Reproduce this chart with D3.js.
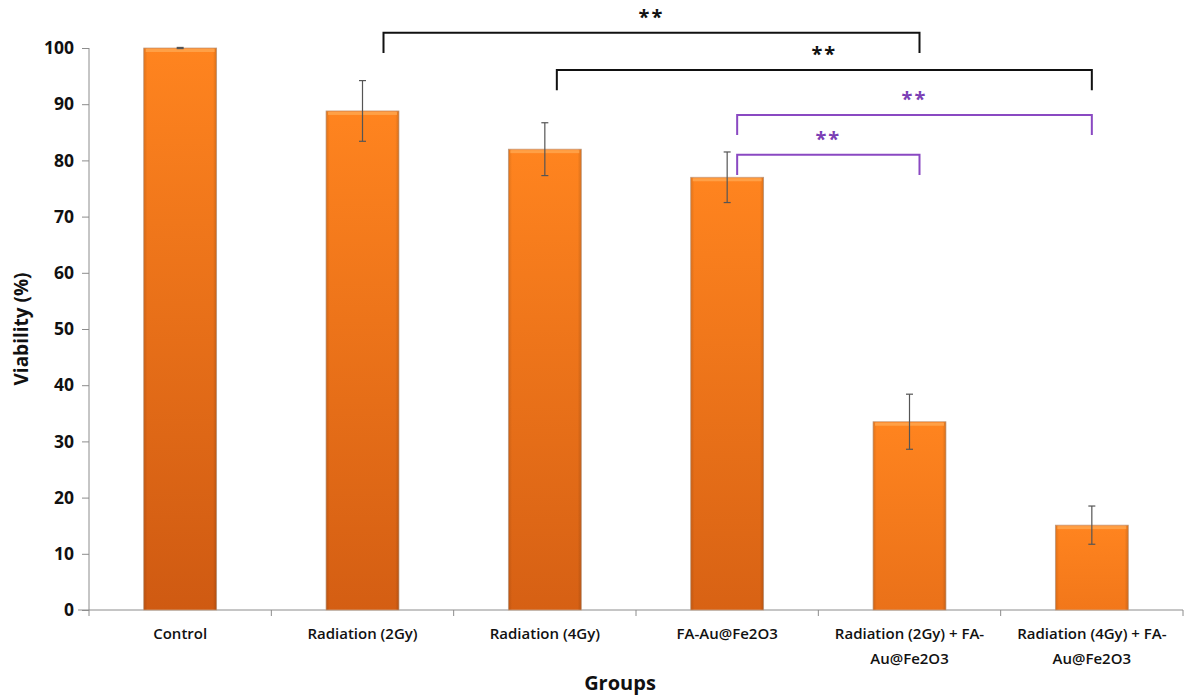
<!DOCTYPE html>
<html>
<head>
<meta charset="utf-8">
<title>viability bar chart</title>
<style>
  body { margin: 0; background: #fff; }
  text { font-family: "Open Sans", "Liberation Sans", sans-serif; }
</style>
</head>
<body>
<svg width="1184" height="698"></svg>
<script src="https://d3js.org/d3.v7.min.js"></script>
<script>

    // data
    var groups = ["Control", "Radiation (2Gy)", "Radiation (4Gy)", "FA-Au@Fe2O3",
                  "Radiation (2Gy) + FA-Au@Fe2O3", "Radiation (4Gy) + FA-Au@Fe2O3"];
    var groupLines = [["Control"], ["Radiation (2Gy)"], ["Radiation (4Gy)"], ["FA-Au@Fe2O3"],
                      ["Radiation (2Gy) + FA-", "Au@Fe2O3"], ["Radiation (4Gy) + FA-", "Au@Fe2O3"]];
    var viability = [100, 88.8, 82.0, 77.0, 33.5, 15.1];
    var errors = [0.1, 5.4, 4.7, 4.5, 4.9, 3.4];
    var yTicks = [0, 10, 20, 30, 40, 50, 60, 70, 80, 90, 100];

    // significance brackets: from group, to group, bracket level, leg ends, colour set
    var sigFrom = [1, 2, 3, 3];
    var sigTo = [4, 5, 5, 4];
    var sigLevel = [102.7, 96.1, 88.1, 81.0];
    var sigLegLeft = [99.1, 92.5, 84.5, 77.4];
    var sigLegRight = [99.1, 92.5, 84.5, 77.4];
    var sigLabel = ["**", "**", "**", "**"];
    var sigKind = ["black", "black", "purple", "purple"];

    var svg = d3.select("svg"),
        margin = { top: 48, right: 1, bottom: 88, left: 89 },
        width = +svg.attr("width") - margin.left - margin.right,
        height = +svg.attr("height") - margin.top - margin.bottom,
        g = svg.append("g").attr("transform", "translate(" + margin.left + "," + margin.top + ")");

    var x = d3.scaleBand()
        .domain(groups)
        .range([0, width])
        .paddingInner(0.6)
        .paddingOuter(0.3);

    var y = d3.scaleLinear()
        .domain([0, 100])
        .range([height, 0]);

    var defs = svg.append("defs");

    // one gradient per bar, darker the further it runs down
    viability.forEach(function (v, i) {
        var top = y(v), t = (height - top) / height;
        var grad = defs.append("linearGradient")
            .attr("id", "bar" + i)
            .attr("gradientUnits", "userSpaceOnUse")
            .attr("x1", 0).attr("x2", 0)
            .attr("y1", top).attr("y2", height);
        grad.append("stop").attr("offset", 0).attr("stop-color", "#ff841f");
        grad.append("stop").attr("offset", 1).attr("stop-color", d3.interpolateRgb("#f87c1c", "#cf5a12")(t));
        var side = defs.append("linearGradient")
            .attr("id", "side" + i)
            .attr("x1", 0).attr("x2", 1).attr("y1", 0).attr("y2", 0);
        side.append("stop").attr("offset", 0).attr("stop-color", "#000").attr("stop-opacity", 0.12);
        side.append("stop").attr("offset", 0.05).attr("stop-color", "#000").attr("stop-opacity", 0);
        side.append("stop").attr("offset", 0.95).attr("stop-color", "#000").attr("stop-opacity", 0);
        side.append("stop").attr("offset", 1).attr("stop-color", "#000").attr("stop-opacity", 0.15);
    });

    // axes
    var yAxis = g.append("g")
        .call(d3.axisLeft(y).tickValues(yTicks).tickSize(7).tickPadding(8));
    yAxis.select(".domain").attr("stroke", "#8c8c8c").attr("d", "M0," + height + "V0");
    yAxis.selectAll(".tick line").attr("stroke", "#8c8c8c");
    yAxis.selectAll(".tick text")
        .attr("fill", "#111")
        .style("font-size", "17.5px")
        .style("font-weight", "bold");

    var xAxis = g.append("g")
        .attr("transform", "translate(0," + height + ")");
    xAxis.append("line")
        .attr("x1", -11).attr("x2", width)
        .attr("stroke", "#8c8c8c");
    xAxis.selectAll(".xtick")
        .data(d3.range(groups.length + 1))
        .enter().append("line")
        .attr("x1", function (i) { return i * x.step(); })
        .attr("x2", function (i) { return i * x.step(); })
        .attr("y1", 0).attr("y2", 6)
        .attr("stroke", "#8c8c8c");

    // bars
    var bars = g.selectAll(".bar")
        .data(viability)
        .enter().append("g")
        .attr("class", "bar");

    bars.append("rect")
        .attr("x", function (d, i) { return x(groups[i]); })
        .attr("y", function (d) { return y(d); })
        .attr("width", x.bandwidth())
        .attr("height", function (d) { return height - y(d); })
        .attr("fill", function (d, i) { return "url(#bar" + i + ")"; })
        .attr("stroke", "#c9a58a")
        .attr("stroke-width", 0.8);

    bars.append("rect")
        .attr("x", function (d, i) { return x(groups[i]); })
        .attr("y", function (d) { return y(d); })
        .attr("width", x.bandwidth())
        .attr("height", function (d) { return height - y(d); })
        .attr("fill", function (d, i) { return "url(#side" + i + ")"; });

    bars.append("rect")
        .attr("x", function (d, i) { return x(groups[i]) + 2; })
        .attr("y", function (d) { return y(d) + 1; })
        .attr("width", x.bandwidth() - 4)
        .attr("height", 3)
        .attr("fill", "#ffa850")
        .attr("opacity", 0.8);

    // error bars
    var err = g.selectAll(".err")
        .data(viability)
        .enter().append("g")
        .attr("class", "err")
        .attr("stroke", "#555")
        .attr("stroke-width", 1.2);
    err.append("line")
        .attr("x1", function (d, i) { return x(groups[i]) + x.bandwidth() / 2; })
        .attr("x2", function (d, i) { return x(groups[i]) + x.bandwidth() / 2; })
        .attr("y1", function (d, i) { return y(d - errors[i]); })
        .attr("y2", function (d, i) { return y(d + errors[i]); });
    [-1, 1].forEach(function (s) {
        err.append("line")
            .attr("x1", function (d, i) { return x(groups[i]) + x.bandwidth() / 2 - 3.5; })
            .attr("x2", function (d, i) { return x(groups[i]) + x.bandwidth() / 2 + 3.5; })
            .attr("y1", function (d, i) { return y(d + s * errors[i]); })
            .attr("y2", function (d, i) { return y(d + s * errors[i]); });
    });

    // category labels
    var labels = g.selectAll(".cat")
        .data(groupLines)
        .enter().append("text")
        .attr("class", "cat")
        .attr("text-anchor", "middle")
        .attr("fill", "#111")
        .style("font-size", "15px")
        .style("font-weight", "600")
        .attr("transform", function (d, i) {
            return "translate(" + (x(groups[i]) + x.bandwidth() / 2) + "," + (height + 29) + ")";
        });
    labels.selectAll("tspan")
        .data(function (d) { return d; })
        .enter().append("tspan")
        .attr("x", 0)
        .attr("dy", function (d, j) { return j === 0 ? 0 : 25; })
        .text(function (d) { return d; });

    // axis titles
    svg.append("text")
        .attr("transform", "translate(28," + (margin.top + height / 2) + ") rotate(-90)")
        .attr("text-anchor", "middle")
        .attr("fill", "#111")
        .style("font-size", "19px")
        .style("font-weight", "bold")
        .text("Viability (%)");

    svg.append("text")
        .attr("x", 620)
        .attr("y", 690)
        .attr("text-anchor", "middle")
        .attr("fill", "#111")
        .style("font-size", "20px")
        .style("font-weight", "bold")
        .text("Groups");

    // significance brackets
    var colours = { black: "#111", purple: "#8a49c2" };
    var starColours = { black: "#111", purple: "#7b3fb5" };
    var legOffset = [21, 12, 10, 10];
    var rightOffset = [10, 0, 0, 10];

    sigFrom.forEach(function (f, i) {
        var x0 = x(groups[f]) + x.bandwidth() / 2 + legOffset[i],
            x1 = x(groups[sigTo[i]]) + x.bandwidth() / 2 + rightOffset[i];
        g.append("path")
            .attr("d", "M" + x0 + "," + y(sigLegLeft[i]) + "V" + y(sigLevel[i]) +
                       "H" + x1 + "V" + y(sigLegRight[i]))
            .attr("fill", "none")
            .attr("stroke", colours[sigKind[i]])
            .attr("stroke-width", 2);
        g.append("text")
            .attr("x", (x0 + x1) / 2)
            .attr("y", y(sigLevel[i]) - 9)
            .attr("text-anchor", "middle")
            .attr("fill", starColours[sigKind[i]])
            .style("font-size", "20px")
            .style("font-weight", "bold")
            .style("letter-spacing", "2px")
            .text(sigLabel[i]);
    });

</script>
</body>
</html>
